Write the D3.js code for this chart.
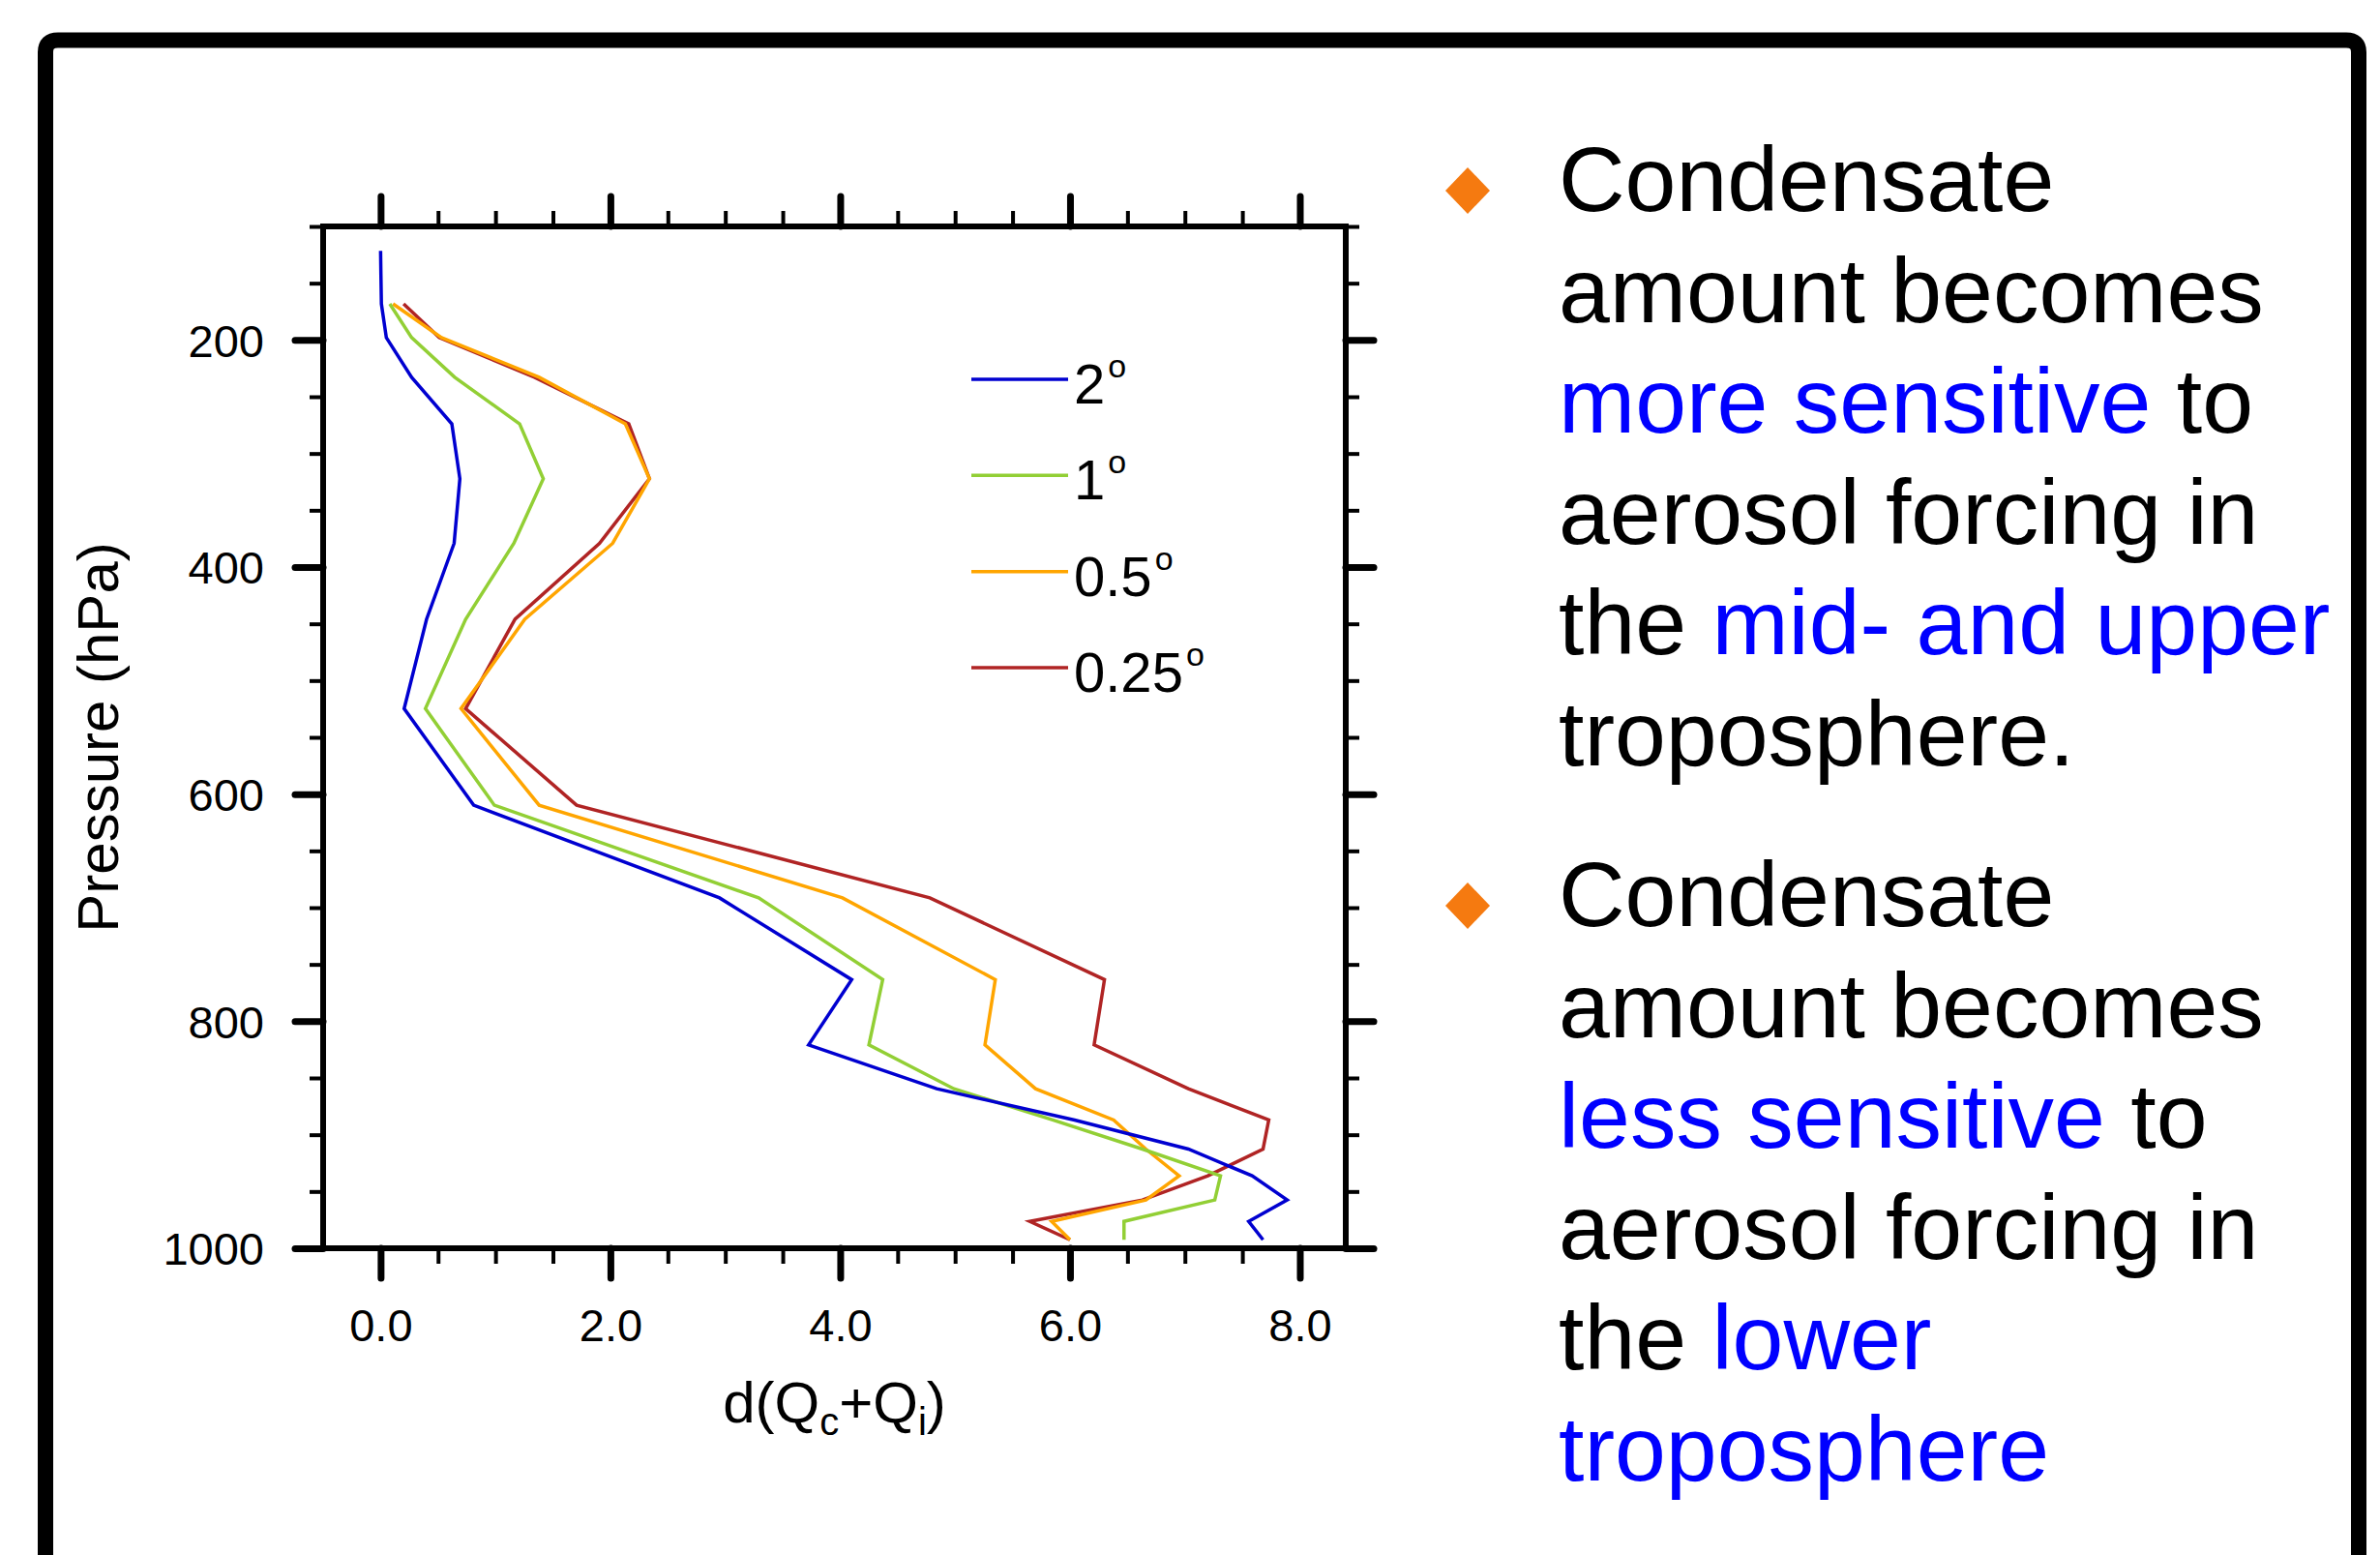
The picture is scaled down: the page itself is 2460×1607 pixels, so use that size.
<!DOCTYPE html>
<html><head><meta charset="utf-8">
<script src="https://cdn.jsdelivr.net/npm/d3@7"></script>
<style>
body{margin:0;background:#fff}
svg{display:block}
text{font-family:"Liberation Sans",Arial,Helvetica,sans-serif}
</style>
</head><body>
<svg id="c" width="2460" height="1607"></svg>
<script>
// ---------------- data ----------------
const levels = [121.55, 142.99, 168.23, 197.91, 232.83, 273.91, 322.24, 379.10, 445.99, 524.69,
                609.78, 691.39, 763.40, 820.86, 859.53, 887.02, 912.64, 936.20, 957.49, 976.33, 992.56];
const res2deg   = [0.0, 0.003, 0.007, 0.05, 0.27, 0.62, 0.69, 0.64, 0.40, 0.205,
                   0.81, 2.95, 4.10, 3.725, 4.84, 6.04, 7.03, 7.585, 7.89, 7.555, 7.68];
const res1deg   = [null, null, 0.08, 0.27, 0.645, 1.21, 1.416, 1.16, 0.74, 0.39,
                   0.99, 3.29, 4.37, 4.25, 4.99, 5.85, 6.63, 7.31, 7.26, 6.47, 6.47];
const res05deg  = [null, null, 0.108, 0.53, 1.38, 2.13, 2.34, 2.02, 1.255, 0.70,
                   1.38, 4.02, 5.35, 5.26, 5.70, 6.38, 6.66, 6.95, 6.66, 5.84, 6.0];
const res025deg = [null, null, 0.2, 0.51, 1.34, 2.16, 2.34, 1.905, 1.17, 0.74,
                   1.706, 4.78, 6.30, 6.21, 7.03, 7.73, 7.68, 7.2, 6.63, 5.65, 6.0];
const seriesLabels = ["2", "1", "0.5", "0.25"];
const xMajorTicks = [0, 2, 4, 6, 8];
const xMinorTicks = d3.range(0, 8.01, 0.5);
const yMajorTicks = [200, 400, 600, 800, 1000];
const yMinorTicks = d3.range(100, 1000.1, 50);
const xTitle = "d(Q_c+Q_i)";
const yTitle = "Pressure (hPa)";
const bullet1 = [
  [["Condensate", "k"]],
  [["amount becomes", "k"]],
  [["more sensitive", "b"], [" to", "k"]],
  [["aerosol forcing in", "k"]],
  [["the ", "k"], ["mid- and upper", "b"]],
  [["troposphere.", "k"]]
];
const bullet2 = [
  [["Condensate", "k"]],
  [["amount becomes", "k"]],
  [["less sensitive", "b"], [" to", "k"]],
  [["aerosol forcing in", "k"]],
  [["the ", "k"], ["lower", "b"]],
  [["troposphere", "b"]]
];

// ---------------- styles / layout ----------------
const colors = ["#0000D0", "#92CF35", "#FFA500", "#B02424"];
const textColors = {k: "#000000", b: "#0000FF"};
const svg = d3.select("#c");
const X0 = 334, X1 = 1391, Y0 = 234, Y1 = 1290;
const x = d3.scaleLinear().domain([-0.5, 8.4]).range([X0, X1]);
const y = d3.scaleLinear().domain([100, 1000]).range([Y0, Y1]);

// outer frame
svg.append("path")
  .attr("d", `M47,1640 L47,54 Q47,41.5 60,41.5 L2425,41.5 Q2438,41.5 2438,54 L2438,1640`)
  .attr("fill", "none").attr("stroke", "#000").attr("stroke-width", 16);

// ---------------- axes ----------------
function styleAxis(g, width, cap) {
  g.select(".domain").remove();
  g.selectAll(".tick line").attr("stroke", "#000").attr("stroke-width", width).attr("stroke-linecap", cap);
  g.selectAll(".tick text").attr("fill", "#000").style("font-size", "47px")
    .style("font-family", '"Liberation Sans", Arial, sans-serif');
}
// bottom
svg.append("g").attr("transform", `translate(0,${Y1})`)
  .call(d3.axisBottom(x).tickValues(xMinorTicks).tickSize(16).tickFormat(""))
  .call(g => styleAxis(g, 4, "butt"));
svg.append("g").attr("transform", `translate(0,${Y1})`)
  .call(d3.axisBottom(x).tickValues(xMajorTicks).tickSize(31).tickPadding(31).tickFormat(d3.format(".1f")))
  .call(g => styleAxis(g, 7, "round"))
  .call(g => g.selectAll(".tick text").attr("dy", "0.72em"));
// top
svg.append("g").attr("transform", `translate(0,${Y0})`)
  .call(d3.axisTop(x).tickValues(xMinorTicks).tickSize(16).tickFormat(""))
  .call(g => styleAxis(g, 4, "butt"));
svg.append("g").attr("transform", `translate(0,${Y0})`)
  .call(d3.axisTop(x).tickValues(xMajorTicks).tickSize(31).tickFormat(""))
  .call(g => styleAxis(g, 7, "round"));
// left
svg.append("g").attr("transform", `translate(${X0},0)`)
  .call(d3.axisLeft(y).tickValues(yMinorTicks).tickSize(14).tickFormat(""))
  .call(g => styleAxis(g, 4, "butt"));
svg.append("g").attr("transform", `translate(${X0},0)`)
  .call(d3.axisLeft(y).tickValues(yMajorTicks).tickSize(29).tickPadding(32).tickFormat(d3.format("d")))
  .call(g => styleAxis(g, 7, "round"))
  .call(g => g.selectAll(".tick text").attr("dy", "0.36em"));
// right
svg.append("g").attr("transform", `translate(${X1},0)`)
  .call(d3.axisRight(y).tickValues(yMinorTicks).tickSize(14).tickFormat(""))
  .call(g => styleAxis(g, 4, "butt"));
svg.append("g").attr("transform", `translate(${X1},0)`)
  .call(d3.axisRight(y).tickValues(yMajorTicks).tickSize(29).tickFormat(""))
  .call(g => styleAxis(g, 7, "round"));

// ---------------- lines ----------------
const seriesValues = [res2deg, res1deg, res05deg, res025deg];
const line = d3.line()
  .defined(d => d[0] !== null)
  .x(d => x(d[0])).y(d => y(d[1]));
const plotG = svg.append("g");
[3, 2, 1, 0].forEach(i => {
  const pts = seriesValues[i].map((v, k) => [v, levels[k]]);
  plotG.append("path").datum(pts)
    .attr("d", line)
    .attr("fill", "none").attr("stroke", colors[i]).attr("stroke-width", 3.5)
    .attr("stroke-linejoin", "miter");
});

// plot frame
svg.append("rect").attr("x", X0).attr("y", Y0).attr("width", X1 - X0).attr("height", Y1 - Y0)
  .attr("fill", "none").attr("stroke", "#000").attr("stroke-width", 6);

// ---------------- legend ----------------
const legY = d3.scalePoint().domain(seriesLabels).range([392, 690]);
const leg = svg.append("g");
seriesLabels.forEach((lab, i) => {
  const yy = legY(lab);
  leg.append("line").attr("x1", 1004).attr("x2", 1104).attr("y1", yy).attr("y2", yy)
    .attr("stroke", colors[i]).attr("stroke-width", 3.5);
  const t = leg.append("text").attr("x", 1110).attr("y", yy + 25).style("font-size", "58px").attr("fill", "#000");
  t.append("tspan").text(lab);
  t.append("tspan").text("o").attr("dx", 3).attr("dy", -27).style("font-size", "34px");
});

// ---------------- axis titles ----------------
const xt = svg.append("text").attr("x", (X0 + X1) / 2).attr("y", 1470)
  .attr("text-anchor", "middle").style("font-size", "60px").attr("fill", "#000");
xt.append("tspan").text("d(Q");
xt.append("tspan").text("c").style("font-size", "40px").attr("dy", 13);
xt.append("tspan").text("+Q").attr("dy", -13);
xt.append("tspan").text("i").style("font-size", "40px").attr("dy", 13);
xt.append("tspan").text(")").attr("dy", -13);

svg.append("text").attr("transform", `translate(122,${(Y0 + Y1) / 2}) rotate(-90)`)
  .attr("text-anchor", "middle").style("font-size", "60px").attr("fill", "#000").text(yTitle);

// ---------------- bullet text ----------------
function drawBullet(lines, firstBaseline) {
  const cy = firstBaseline - 21;
  svg.append("path")
    .attr("d", `M1517,${cy - 24} L1540,${cy} L1517,${cy + 24} L1494,${cy} Z`)
    .attr("fill", "#F57A10");
  lines.forEach((segs, i) => {
    const t = svg.append("text").attr("x", 1611).attr("y", firstBaseline + i * 114.6)
      .style("font-size", "95px").attr("xml:space", "preserve").style("white-space", "pre");
    segs.forEach(([s, c]) => t.append("tspan").text(s).attr("fill", textColors[c]));
  });
}
drawBullet(bullet1, 218);
drawBullet(bullet2, 957);
</script>
</body></html>
